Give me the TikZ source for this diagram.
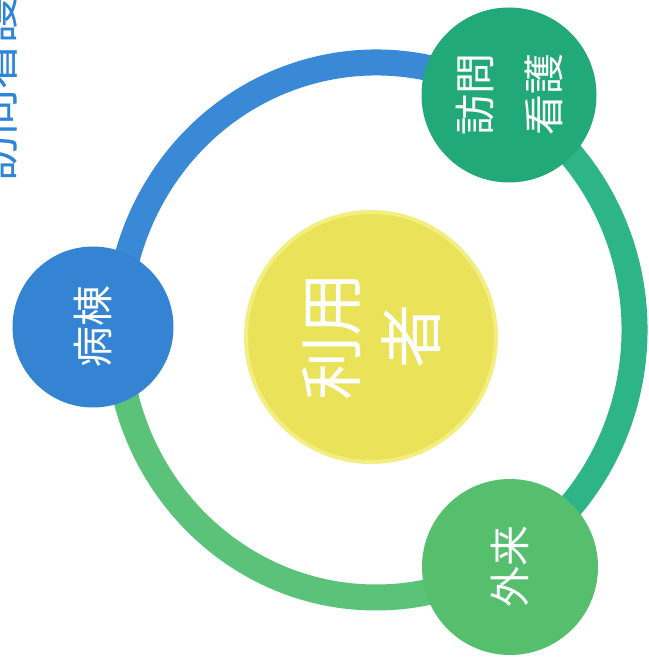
\documentclass[tikz,border=0pt]{standalone}
\usepackage{fontspec}
\newfontfamily\jp{Noto Sans CJK JP}
\definecolor{ringblue}{HTML}{3A89D6}
\definecolor{ringteal}{HTML}{2DB487}
\definecolor{ringgreen}{HTML}{5AC279}
\definecolor{wardblue}{HTML}{3584D3}
\definecolor{visitteal}{HTML}{22A979}
\definecolor{outgreen}{HTML}{55BF6E}
\definecolor{userfill}{HTML}{EAE35A}
\definecolor{userrim}{HTML}{F3EE82}
\definecolor{titleblue}{HTML}{2E84D6}
\begin{document}
\begin{tikzpicture}[x=1pt,y=1pt,
  disc/.style={circle,inner sep=0pt,text=white,rotate=90,align=center}]
  \clip (0,0) rectangle (648,664);
  \coordinate (c) at (376,334);
  \draw[line width=26pt,ringblue] (c) ++(60:258.5 and 267.5) arc[start angle=60,end angle=180,x radius=258.5,y radius=267.5];
  \draw[line width=26pt,ringteal] (c) ++(-60:258.5 and 267.5) arc[start angle=-60,end angle=60,x radius=258.5,y radius=267.5];
  \draw[line width=26pt,ringgreen] (c) ++(180:258.5 and 267.5) arc[start angle=180,end angle=300,x radius=258.5,y radius=267.5];
  \node[disc,fill=wardblue,minimum size=161pt,font=\jp\fontsize{41}{50}\selectfont] (ward) at (93,337) {病棟};
  \node[disc,fill=visitteal,minimum size=175pt,font=\jp\fontsize{41}{69}\selectfont] (visit) at (509,569) {訪問\\看護};
  \node[disc,fill=outgreen,minimum size=176pt,font=\jp\fontsize{41}{50}\selectfont] (outpatient) at (510,97) {外来};
  \node[disc,fill=userfill,draw=userrim,line width=4pt,minimum size=250pt,font=\jp\fontsize{64}{80}\selectfont] (user) at (371,327) {利用\\者};
  \node[rotate=90,anchor=west,inner sep=0pt,text=titleblue,font=\jp\fontsize{46}{50}\selectfont] (title) at (-4,482) {訪問看護};
\end{tikzpicture}
\end{document}
